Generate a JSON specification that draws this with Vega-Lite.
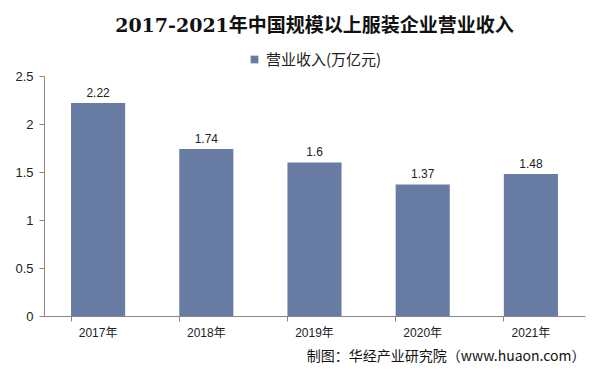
{
  "$schema": "https://vega.github.io/schema/vega-lite/v6.json",
  "width": 541,
  "height": 240,
  "autosize": "none",
  "padding": {"left": 44, "top": 76, "right": 16, "bottom": 63},
  "background": "white",
  "title": {
    "text": "2017-2021年中国规模以上服装企业营业收入",
    "font": "DejaVu Serif, Noto Sans CJK SC",
    "fontSize": 19,
    "fontWeight": "bold",
    "color": "#111111",
    "anchor": "middle",
    "frame": "group",
    "offset": 16
  },
  "data": {
    "values": [
      {"year": "2017年", "value": 2.22, "series": "营业收入(万亿元)"},
      {"year": "2018年", "value": 1.74, "series": "营业收入(万亿元)"},
      {"year": "2019年", "value": 1.6, "series": "营业收入(万亿元)"},
      {"year": "2020年", "value": 1.37, "series": "营业收入(万亿元)"},
      {"year": "2021年", "value": 1.48, "series": "营业收入(万亿元)"}
    ]
  },
  "encoding": {
    "x": {
      "field": "year",
      "type": "nominal",
      "sort": null,
      "scale": {"paddingInner": 0.5, "paddingOuter": 0.25},
      "axis": {
        "title": "制图：华经产业研究院（www.huaon.com）",
        "titleAnchor": "end",
        "titleAlign": "right",
        "titleFontSize": 14,
        "titleFontWeight": "normal",
        "titleFont": "Noto Sans CJK SC",
        "titleColor": "#111111",
        "titlePadding": 11,
        "labelAngle": 0,
        "labelFontSize": 12,
        "labelPadding": 6,
        "bandPosition": 0,
        "tickSize": 5,
        "domainColor": "#868686",
        "tickColor": "#868686",
        "labelColor": "#222222"
      }
    },
    "y": {
      "field": "value",
      "type": "quantitative",
      "scale": {"domain": [0, 2.5]},
      "axis": {
        "title": null,
        "values": [0, 0.5, 1, 1.5, 2, 2.5],
        "format": "~g",
        "grid": false,
        "labelFontSize": 13,
        "labelPadding": 6,
        "tickSize": 5,
        "domainColor": "#868686",
        "tickColor": "#868686",
        "labelColor": "#222222"
      }
    }
  },
  "layer": [
    {
      "mark": {"type": "bar", "color": "#687ba3"},
      "encoding": {
        "color": {
          "field": "series",
          "type": "nominal",
          "scale": {"range": ["#687ba3"]},
          "legend": {
            "title": null,
            "orient": "top",
            "direction": "horizontal",
            "symbolType": "square",
            "symbolSize": 60,
            "labelFontSize": 15,
            "labelFont": "Noto Sans CJK SC",
            "labelColor": "#222222",
            "offset": 8
          }
        }
      }
    },
    {
      "mark": {"type": "text", "dy": -10, "fontSize": 12, "color": "#222222"},
      "encoding": {"text": {"field": "value", "type": "quantitative"}}
    }
  ],
  "config": {
    "font": "Liberation Sans, Noto Sans CJK SC",
    "view": {"stroke": null},
    "legend": {"layout": {"top": {"anchor": "middle"}}}
  }
}
